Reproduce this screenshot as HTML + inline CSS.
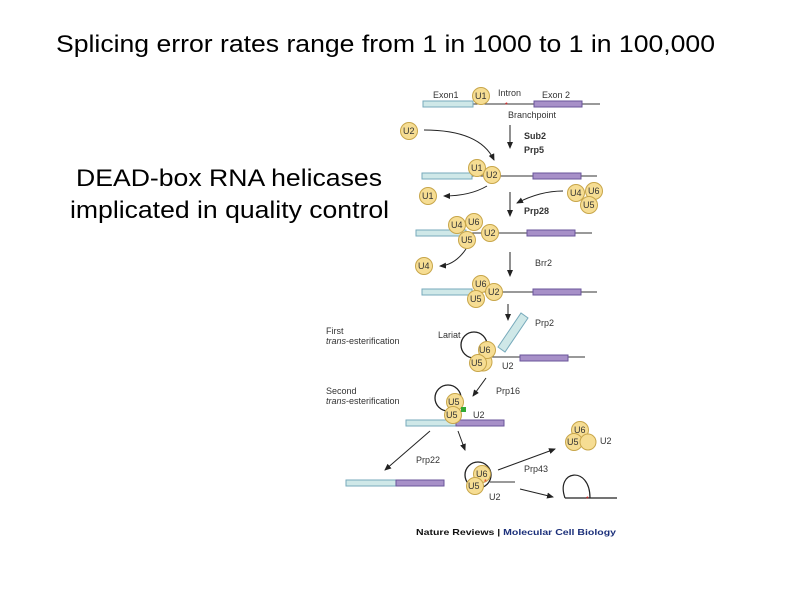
<!DOCTYPE html>
<html><head><style>
body{margin:0;background:#fff;width:800px;height:600px;overflow:hidden;font-family:"Liberation Sans",sans-serif}
</style></head><body>
<svg width="800" height="600" xmlns="http://www.w3.org/2000/svg" font-family="Liberation Sans, sans-serif">
<defs>
<marker id="a" markerWidth="8" markerHeight="8" refX="6" refY="4" orient="auto"><path d="M0,1 L7,4 L0,7z" fill="#222"/></marker>
</defs>
<text x="56" y="52" font-size="24" fill="#000" textLength="659" lengthAdjust="spacingAndGlyphs">Splicing error rates range from 1 in 1000 to 1 in 100,000</text>
<text x="76" y="186" font-size="24" textLength="306" lengthAdjust="spacingAndGlyphs">DEAD-box RNA helicases</text>
<text x="70" y="218" font-size="24" textLength="319" lengthAdjust="spacingAndGlyphs">implicated in quality control</text>

<g font-size="9" fill="#333">
<!-- row1 -->
<line x1="473" y1="104" x2="600" y2="104" stroke="#333"/>
<rect x="423" y="101" width="50" height="6" fill="#cfe8e8" stroke="#7ab"/>
<rect x="534" y="101" width="48" height="6" fill="#a790c8" stroke="#6a559a"/>
<text x="433" y="98">Exon1</text><text x="498" y="96">Intron</text><text x="542" y="98">Exon 2</text>
<text x="508" y="118">Branchpoint</text>
<circle cx="481" cy="96" r="8.5" fill="#f6dd93" stroke="#c8a64a"/><text x="475" y="99">U1</text>
<text x="505" y="107" fill="#e22" font-size="7">*</text>
<circle cx="409" cy="131" r="8.5" fill="#f6dd93" stroke="#c8a64a"/><text x="403" y="134">U2</text>
<path d="M424,130 Q480,130 494,160" fill="none" stroke="#222" marker-end="url(#a)"/>
<line x1="510" y1="125" x2="510" y2="148" stroke="#222" marker-end="url(#a)"/>
<text x="524" y="139" font-weight="bold">Sub2</text><text x="524" y="153" font-weight="bold">Prp5</text>
<!-- row2 -->
<line x1="470" y1="176" x2="597" y2="176" stroke="#333"/>
<rect x="422" y="173" width="50" height="6" fill="#cfe8e8" stroke="#7ab"/>
<rect x="533" y="173" width="48" height="6" fill="#a790c8" stroke="#6a559a"/>
<circle cx="477" cy="168" r="8.5" fill="#f6dd93" stroke="#c8a64a"/><text x="471" y="171">U1</text>
<circle cx="492" cy="175" r="8.5" fill="#f6dd93" stroke="#c8a64a"/><text x="486" y="178">U2</text>
<circle cx="428" cy="196" r="8.5" fill="#f6dd93" stroke="#c8a64a"/><text x="422" y="199">U1</text>
<path d="M487,186 Q470,196 444,196" fill="none" stroke="#222" marker-end="url(#a)"/>
<line x1="510" y1="192" x2="510" y2="216" stroke="#222" marker-end="url(#a)"/>
<path d="M563,191 Q540,191 517,203" fill="none" stroke="#222" marker-end="url(#a)"/>
<circle cx="576" cy="193" r="8.5" fill="#f6dd93" stroke="#c8a64a"/><text x="570" y="196">U4</text>
<circle cx="594" cy="191" r="8.5" fill="#f6dd93" stroke="#c8a64a"/><text x="588" y="194">U6</text>
<circle cx="589" cy="205" r="8.5" fill="#f6dd93" stroke="#c8a64a"/><text x="583" y="208">U5</text>
<text x="524" y="214" font-weight="bold">Prp28</text>
<!-- row3 -->
<line x1="460" y1="233" x2="592" y2="233" stroke="#333"/>
<rect x="416" y="230" width="50" height="6" fill="#cfe8e8" stroke="#7ab"/>
<rect x="527" y="230" width="48" height="6" fill="#a790c8" stroke="#6a559a"/>
<circle cx="457" cy="225" r="8.5" fill="#f6dd93" stroke="#c8a64a"/><text x="451" y="228">U4</text>
<circle cx="474" cy="222" r="8.5" fill="#f6dd93" stroke="#c8a64a"/><text x="468" y="225">U6</text>
<circle cx="467" cy="240" r="8.5" fill="#f6dd93" stroke="#c8a64a"/><text x="461" y="243">U5</text>
<circle cx="490" cy="233" r="8.5" fill="#f6dd93" stroke="#c8a64a"/><text x="484" y="236">U2</text>
<circle cx="424" cy="266" r="8.5" fill="#f6dd93" stroke="#c8a64a"/><text x="418" y="269">U4</text>
<path d="M466,249 Q455,265 440,266" fill="none" stroke="#222" marker-end="url(#a)"/>
<line x1="510" y1="252" x2="510" y2="276" stroke="#222" marker-end="url(#a)"/>
<text x="535" y="266">Brr2</text>
<!-- row4 -->
<line x1="470" y1="292" x2="597" y2="292" stroke="#333"/>
<rect x="422" y="289" width="50" height="6" fill="#cfe8e8" stroke="#7ab"/>
<rect x="533" y="289" width="48" height="6" fill="#a790c8" stroke="#6a559a"/>
<circle cx="481" cy="284" r="8.5" fill="#f6dd93" stroke="#c8a64a"/><text x="475" y="287">U6</text>
<circle cx="494" cy="292" r="8.5" fill="#f6dd93" stroke="#c8a64a"/><text x="488" y="295">U2</text>
<circle cx="476" cy="299" r="8.5" fill="#f6dd93" stroke="#c8a64a"/><text x="470" y="302">U5</text>
<line x1="508" y1="304" x2="508" y2="320" stroke="#222" marker-end="url(#a)"/>
<!-- row5 first trans -->
<text x="326" y="334">First</text><text x="326" y="344" font-style="italic">trans<tspan font-style="normal">-esterification</tspan></text>
<text x="438" y="338">Lariat</text><text x="535" y="326">Prp2</text>
<circle cx="474" cy="345" r="13" fill="none" stroke="#222" stroke-width="1.3"/>
<line x1="486" y1="357" x2="585" y2="357" stroke="#333"/>
<rect x="520" y="355" width="48" height="6" fill="#a790c8" stroke="#6a559a"/>
<polygon points="498,347 521,313 528,318 505,352" fill="#cfe8e8" stroke="#7ab"/>
<circle cx="483" cy="362" r="9" fill="#f6dd93" stroke="#c8a64a"/>
<circle cx="487" cy="350" r="8.5" fill="#f6dd93" stroke="#c8a64a"/><text x="479" y="353">U6</text>
<circle cx="478" cy="363" r="8.5" fill="#f6dd93" stroke="#c8a64a"/><text x="471" y="366">U5</text>
<text x="502" y="369">U2</text>
<line x1="486" y1="378" x2="473" y2="396" stroke="#222" marker-end="url(#a)"/>
<!-- row6 second trans -->
<text x="326" y="394">Second</text><text x="326" y="404" font-style="italic">trans<tspan font-style="normal">-esterification</tspan></text>
<text x="496" y="394">Prp16</text>
<circle cx="448" cy="398" r="13" fill="none" stroke="#222" stroke-width="1.3"/>
<rect x="406" y="420" width="50" height="6" fill="#cfe8e8" stroke="#7ab"/>
<rect x="456" y="420" width="48" height="6" fill="#a790c8" stroke="#6a559a"/>
<circle cx="455" cy="402" r="8.5" fill="#f6dd93" stroke="#c8a64a"/><text x="448" y="405">U5</text>
<circle cx="453" cy="415" r="8.5" fill="#f6dd93" stroke="#c8a64a"/><text x="446" y="418">U5</text>
<rect x="461" y="407" width="5" height="5" fill="#3a3"/>
<text x="473" y="418">U2</text>
<line x1="430" y1="431" x2="385" y2="470" stroke="#222" marker-end="url(#a)"/>
<line x1="458" y1="431" x2="465" y2="450" stroke="#222" marker-end="url(#a)"/>
<text x="416" y="463">Prp22</text>
<!-- products -->
<rect x="346" y="480" width="50" height="6" fill="#cfe8e8" stroke="#7ab"/>
<rect x="396" y="480" width="48" height="6" fill="#a790c8" stroke="#6a559a"/>
<circle cx="478" cy="475" r="13" fill="none" stroke="#222" stroke-width="1.3"/>
<line x1="490" y1="482" x2="515" y2="482" stroke="#333"/>
<circle cx="482" cy="474" r="8.5" fill="#f6dd93" stroke="#c8a64a"/><text x="476" y="477">U6</text>
<circle cx="475" cy="486" r="8.5" fill="#f6dd93" stroke="#c8a64a"/><text x="468" y="489">U5</text>
<text x="484" y="484" fill="#e22" font-size="7">*</text>
<text x="489" y="500">U2</text>
<text x="524" y="472">Prp43</text>
<line x1="498" y1="470" x2="555" y2="449" stroke="#222" marker-end="url(#a)"/>
<line x1="520" y1="489" x2="553" y2="497" stroke="#222" marker-end="url(#a)"/>
<circle cx="580" cy="430" r="8.5" fill="#f6dd93" stroke="#c8a64a"/><text x="574" y="433">U6</text>
<circle cx="574" cy="442" r="8.5" fill="#f6dd93" stroke="#c8a64a"/><text x="567" y="445">U5</text>
<circle cx="588" cy="442" r="8" fill="#f6dd93" stroke="#c8a64a"/>
<text x="600" y="444">U2</text>
<path d="M565,498 C555,470 590,465 590,498 L617,498 M565,498 L590,498" fill="none" stroke="#222" stroke-width="1.2"/>
<text x="586" y="501" fill="#e22" font-size="7">*</text>
<text x="416" y="535" font-weight="bold" fill="#111" font-size="8.5" textLength="200" lengthAdjust="spacingAndGlyphs">Nature Reviews | <tspan fill="#1b2f7a">Molecular Cell Biology</tspan></text>
</g>
</svg>
</body></html>
